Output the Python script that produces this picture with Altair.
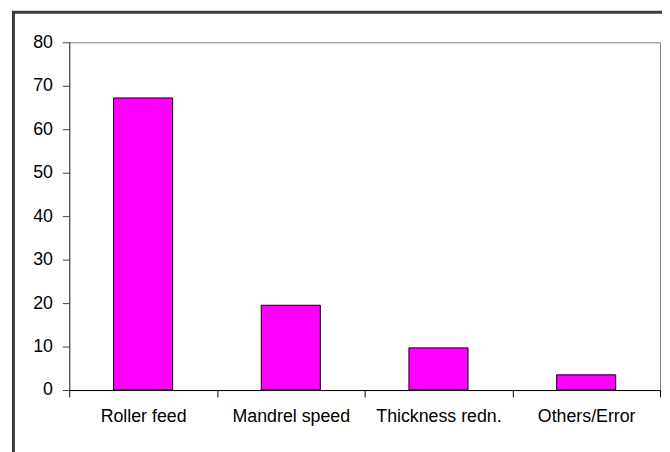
import altair as alt
import pandas as pd

categories = ["Roller feed", "Mandrel speed", "Thickness redn.", "Others/Error"]
values = [67.2, 19.5, 9.7, 3.5]
y_ticks = [0, 10, 20, 30, 40, 50, 60, 70, 80]

df = pd.DataFrame({"category": categories, "value": values})

FONT = "Liberation Sans"

bars = alt.Chart(df).mark_bar(
    color="#FF00FF", stroke="#000000", strokeWidth=1,
    width=alt.RelativeBandSize(0.4)
).encode(
    x=alt.X("category:N", sort=categories, title=None,
            scale=alt.Scale(paddingInner=0, paddingOuter=0),
            axis=alt.Axis(labelAngle=0, tickBand="extent", domainColor="#000000",
                          tickColor="#000000", tickSize=7, labelPadding=11,
                          labelFont=FONT, labelFontSize=18, labelColor="#000000",
                          grid=False)),
    y=alt.Y("value:Q", title=None,
            scale=alt.Scale(domain=[0, 80], nice=False),
            axis=alt.Axis(values=y_ticks, grid=False, domainColor="#404040",
                          tickColor="#404040", tickSize=7, labelPadding=10,
                          labelFont=FONT, labelFontSize=18, labelColor="#000000"))
)

frame_data = alt.Data(values=[{"a": 1}])
frame_left = alt.Chart(frame_data).mark_rule(color="#3A3A3A", strokeWidth=3, clip=False).encode(
    x=alt.value(-56.5), y=alt.value(-31), y2=alt.value(600)
)
frame_top = alt.Chart(frame_data).mark_rule(color="#3A3A3A", strokeWidth=3, clip=False).encode(
    x=alt.value(-58), x2=alt.value(800), y=alt.value(-30.5)
)

chart = alt.layer(bars, frame_left, frame_top).properties(
    width=598, height=352,
    padding={"left": 62, "top": 32, "right": 2, "bottom": 60},
    autosize=alt.AutoSizeParams(type="none"),
    background="#FFFFFF"
).configure_view(stroke="#808080", strokeWidth=1)

chart.save("out.html", embed_options={"renderer": "svg", "actions": False})
